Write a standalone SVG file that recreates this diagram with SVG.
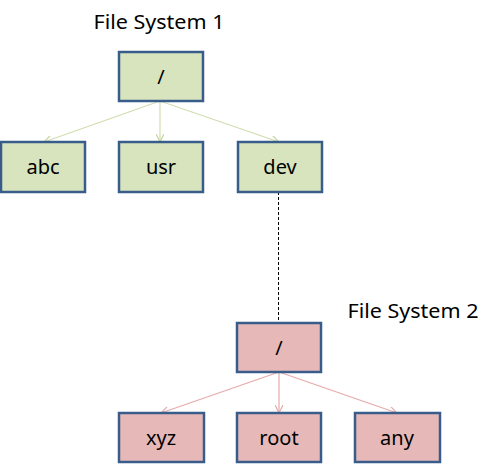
<svg xmlns="http://www.w3.org/2000/svg" width="500" height="464" viewBox="0 0 500 464">
<style>
.g{fill:#d7e4bd;stroke:#385d8a;stroke-width:2.5}
.r{fill:#e6b9b8;stroke:#385d8a;stroke-width:2.5}
text{font-family:"Noto Sans","Liberation Sans",sans-serif;font-size:20px;fill:#000}
.lbl{text-anchor:middle}
.cg{stroke:#d0deb0;stroke-width:1.2;fill:none;marker-end:url(#ag)}
.cr{stroke:#e6aaa8;stroke-width:1.2;fill:none;marker-end:url(#ar)}
</style>
<defs>
<marker id="ag" viewBox="0 0 10 10" refX="10" refY="5" markerWidth="8" markerHeight="8" markerUnits="userSpaceOnUse" orient="auto"><path d="M0,0 L10,5 L0,10" fill="none" stroke="#c3d69b" stroke-width="1.5"/></marker>
<marker id="ar" viewBox="0 0 10 10" refX="10" refY="5" markerWidth="8" markerHeight="8" markerUnits="userSpaceOnUse" orient="auto"><path d="M0,0 L10,5 L0,10" fill="none" stroke="#e6aaa8" stroke-width="1.5"/></marker>
</defs>
<text x="159" y="29" class="lbl" textLength="131" lengthAdjust="spacingAndGlyphs">File System 1</text>
<text x="413" y="318" class="lbl" textLength="131" lengthAdjust="spacingAndGlyphs">File System 2</text>
<g id="connectors">
<line class="cg" x1="160" y1="101" x2="44" y2="142"/>
<line class="cg" x1="160" y1="101" x2="160" y2="142"/>
<line class="cg" x1="160" y1="101" x2="279" y2="142"/>
<line x1="278.5" y1="192" x2="278.5" y2="323" stroke="#000" stroke-width="1" stroke-dasharray="3,2"/>
<line class="cr" x1="279" y1="372" x2="161" y2="413"/>
<line class="cr" x1="279" y1="372" x2="279" y2="413"/>
<line class="cr" x1="279" y1="372" x2="397" y2="413"/>
</g>
<g id="fs1-root"><rect class="g" x="119" y="52" width="84" height="49"/><text x="161" y="84" class="lbl">/</text></g>
<g id="abc"><rect class="g" x="1" y="142" width="84" height="50"/><text x="43" y="174" class="lbl">abc</text></g>
<g id="usr"><rect class="g" x="119" y="142" width="84" height="50"/><text x="161" y="174" class="lbl">usr</text></g>
<g id="dev"><rect class="g" x="238" y="142" width="84" height="50"/><text x="280" y="174" class="lbl">dev</text></g>
<g id="fs2-root"><rect class="r" x="237" y="323" width="84" height="49"/><text x="279" y="355" class="lbl">/</text></g>
<g id="xyz"><rect class="r" x="119" y="413" width="85" height="49"/><text x="161" y="445" class="lbl">xyz</text></g>
<g id="root"><rect class="r" x="237" y="413" width="84" height="49"/><text x="279" y="445" class="lbl">root</text></g>
<g id="any"><rect class="r" x="355" y="413" width="85" height="49"/><text x="397" y="445" class="lbl">any</text></g>
</svg>
